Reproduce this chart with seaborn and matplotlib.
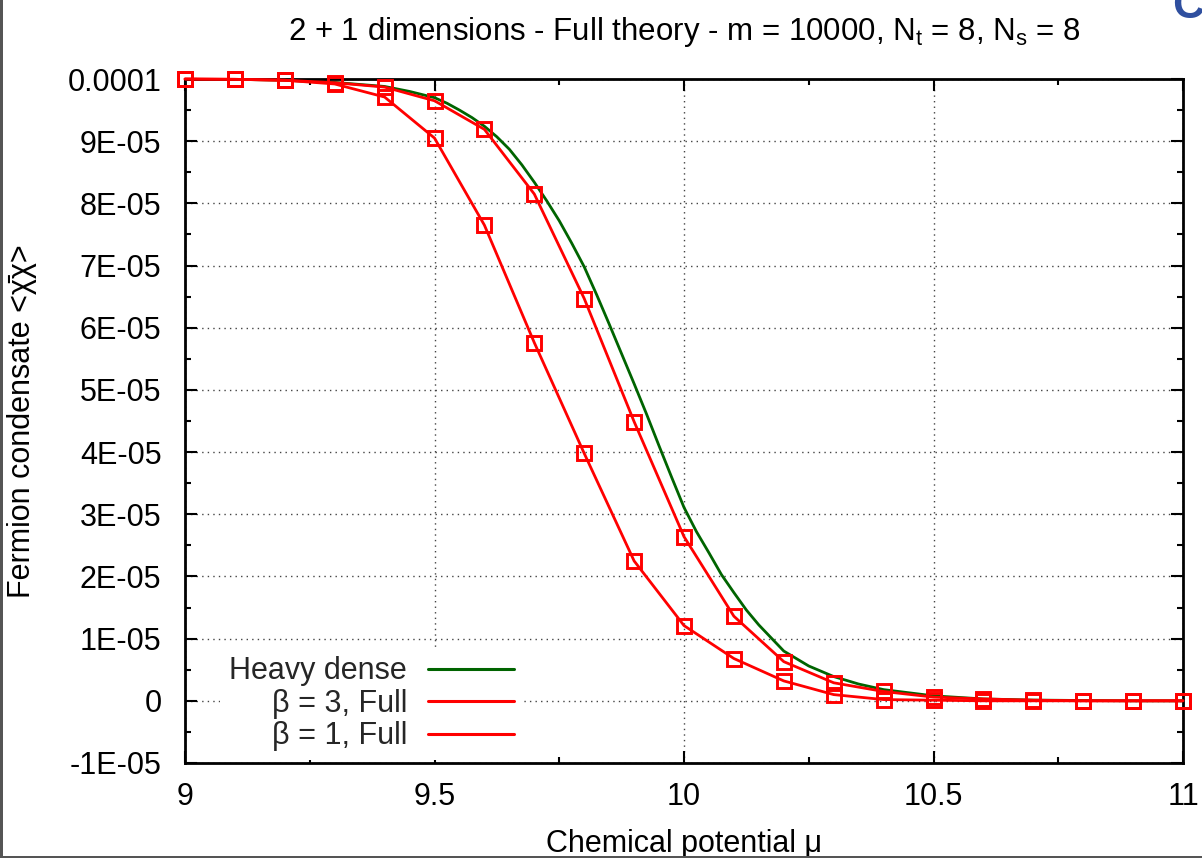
import numpy as np
import pandas as pd
import matplotlib
matplotlib.use("Agg")
import matplotlib.pyplot as plt
from matplotlib.lines import Line2D
from matplotlib.patches import Rectangle
from matplotlib.ticker import MultipleLocator, FixedLocator
import seaborn as sns

# ---------------- data (values in units of 1E-05) ----------------
SCALE = 1e-5
mu_points = [9.0, 9.1, 9.2, 9.3, 9.4, 9.5, 9.6, 9.7, 9.8, 9.9, 10.0,
             10.1, 10.2, 10.3, 10.4, 10.5, 10.6, 10.7, 10.8, 10.9, 11.0]
beta3_full = [10.0, 9.995, 9.98, 9.94, 9.87, 9.65, 9.19, 8.15, 6.47, 4.49, 2.64,
              1.36, 0.63, 0.29, 0.15, 0.06, 0.03, 0.01, 0.0, 0.0, 0.0]
beta1_full = [10.0, 9.995, 9.98, 9.92, 9.71, 9.05, 7.65, 5.76, 3.98, 2.25, 1.21,
              0.68, 0.32, 0.10, 0.02, 0.01, 0.0, 0.0, 0.0, 0.0, 0.0]

mu_dense = [9.0, 9.1, 9.2, 9.3, 9.4, 9.45, 9.5, 9.525, 9.55, 9.575, 9.6, 9.625,
            9.65, 9.675, 9.7, 9.725, 9.75, 9.775, 9.8, 9.825, 9.85, 9.875,
            9.9, 9.925, 9.95, 9.975, 10.0, 10.025, 10.05, 10.075, 10.1,
            10.125, 10.15, 10.2, 10.25, 10.3, 10.35, 10.4, 10.5, 10.6, 10.7,
            10.8, 10.9, 11.0]
heavy_dense = [10.0, 9.995, 9.98, 9.945, 9.88, 9.80, 9.70, 9.61, 9.50, 9.38,
               9.24, 9.07, 8.87, 8.62, 8.34, 8.04, 7.72, 7.36, 6.98, 6.53,
               6.06, 5.58, 5.10, 4.61, 4.10, 3.60, 3.11, 2.72, 2.38, 2.03,
               1.74, 1.46, 1.22, 0.80, 0.56, 0.39, 0.27, 0.18, 0.08, 0.03,
               0.012, 0.005, 0.0, 0.0]

labels = ["Heavy dense", "\u03b2 = 3, Full", "\u03b2 = 1, Full"]
colors = ["#006400", "#ff0000", "#ff0000"]

y_ticks = [-1e-5, 0, 1e-5, 2e-5, 3e-5, 4e-5, 5e-5, 6e-5, 7e-5, 8e-5, 9e-5, 1e-4]
y_ticklabels = ["-1E-05", "0", "1E-05", "2E-05", "3E-05", "4E-05", "5E-05",
                "6E-05", "7E-05", "8E-05", "9E-05", "0.0001"]
x_ticks = [9, 9.5, 10, 10.5, 11]
x_ticklabels = ["9", "9.5", "10", "10.5", "11"]

title = ("2 + 1 dimensions - Full theory - m = 10000, "
         "N$_\\mathregular{t}$ = 8, N$_\\mathregular{s}$ = 8")
xlabel = "Chemical potential \u03bc"
ylabel = "Fermion condensate <\u03c7\u0304\u03c7>"

# ---------------- style ----------------
sns.set_theme(style="ticks")
plt.rcParams["font.family"] = ["Liberation Sans", "DejaVu Sans"]
plt.rcParams["mathtext.fontset"] = "custom"
plt.rcParams["mathtext.rm"] = "Liberation Sans"

FS = 22

fig = plt.figure(figsize=(12.02, 8.58), dpi=100)
ax = fig.add_axes([185 / 1202, 1 - 763 / 858, (1183 - 185) / 1202, (763 - 79) / 858])

df_dense = pd.DataFrame({"mu": mu_dense, "val": np.array(heavy_dense) * SCALE})
df_b3 = pd.DataFrame({"mu": mu_points, "val": np.array(beta3_full) * SCALE})
df_b1 = pd.DataFrame({"mu": mu_points, "val": np.array(beta1_full) * SCALE})

sns.lineplot(data=df_dense, x="mu", y="val", ax=ax, color=colors[0], lw=2.0,
             sort=False, zorder=3)
for df, c in [(df_b3, colors[1]), (df_b1, colors[2])]:
    sns.lineplot(data=df, x="mu", y="val", ax=ax, color=c, lw=2.0, sort=False,
                 marker="s", markersize=9.5, markerfacecolor="none",
                 markeredgecolor=c, markeredgewidth=2.1, zorder=7,
                 clip_on=False)

ax.set_xlim(9, 11)
ax.set_ylim(-1e-5, 1e-4)
ax.xaxis.set_major_locator(FixedLocator(x_ticks))
ax.set_xticklabels(x_ticklabels)
ax.xaxis.set_minor_locator(MultipleLocator(0.25))
ax.yaxis.set_major_locator(FixedLocator(y_ticks))
ax.set_yticklabels(y_ticklabels)
ax.yaxis.set_minor_locator(MultipleLocator(5e-6))

ax.tick_params(which="both", direction="in", top=True, right=True,
               color="black", width=1.5, labelsize=FS, labelcolor="black")
ax.tick_params(which="major", length=8.5)
ax.tick_params(which="minor", length=4.5)
ax.tick_params(axis="y", which="major", pad=17)
ax.tick_params(axis="x", which="major", pad=14)

ax.grid(True, which="major", color="#444444", lw=1.0, ls=(0, (1, 3)))
ax.set_axisbelow(True)
for s in ax.spines.values():
    s.set_linewidth(2.0)
    s.set_color("black")
    s.set_zorder(6)

ax.set_xlabel(xlabel, fontsize=FS, color="black", labelpad=12)
ax.set_ylabel(ylabel, fontsize=FS, color="black", labelpad=22)
ax.set_title(title, fontsize=22.5, color="black", pad=28)

handles = [Line2D([], [], color=c, lw=2.2) for c in colors]
leg = ax.legend(handles, labels, loc="center", bbox_to_anchor=(0.187, 0.0865),
                markerfirst=False, fontsize=FS, frameon=True, fancybox=False,
                framealpha=1.0, edgecolor="none", facecolor="white",
                handlelength=2.8, handletextpad=0.7, labelspacing=0.08,
                borderpad=0.3, borderaxespad=0)
leg.set_zorder(5)

# screenshot frame artefacts
fig.add_artist(Rectangle((0, 0), 2.5 / 1202, 1, transform=fig.transFigure,
                         color="#555555", lw=0))
fig.add_artist(Rectangle((0, 0), 1, 2.5 / 858, transform=fig.transFigure,
                         color="#555555", lw=0))
fig.text(1172 / 1202, 1 - 6 / 858, "C", fontsize=32, fontweight="bold",
         color="#2f4f9f", ha="left", va="center")

fig.savefig("out.png", dpi=100)
